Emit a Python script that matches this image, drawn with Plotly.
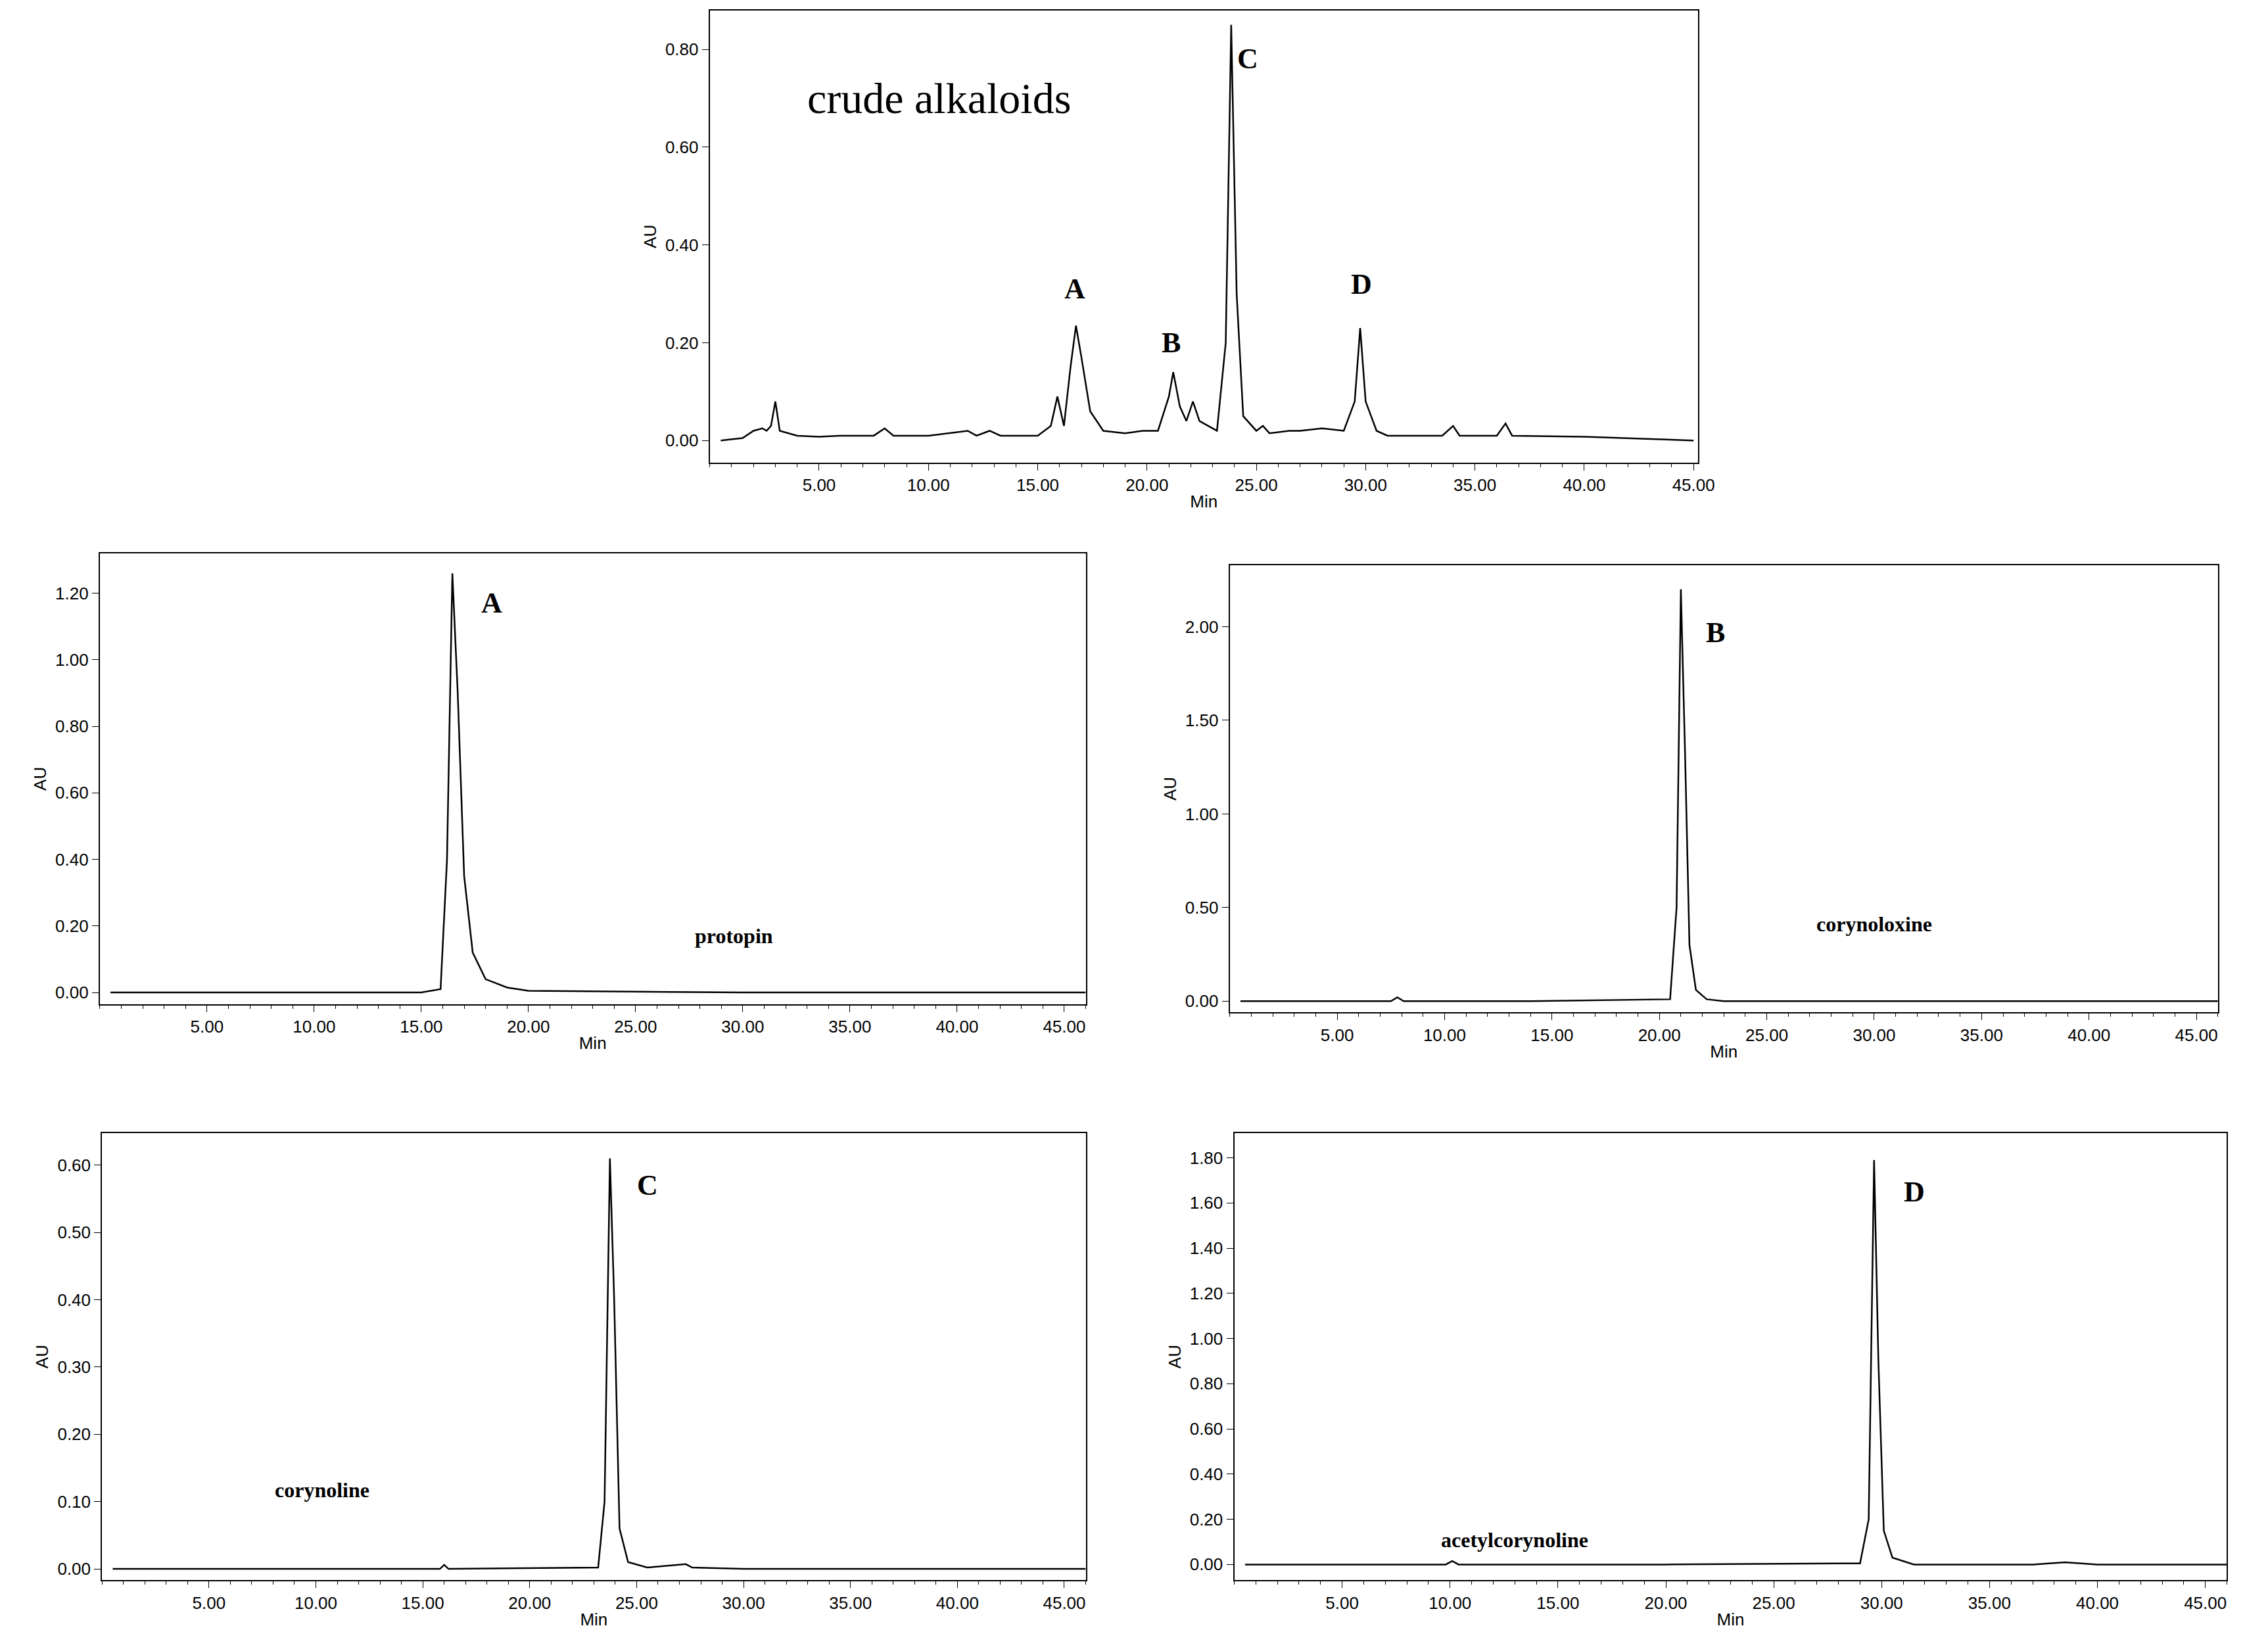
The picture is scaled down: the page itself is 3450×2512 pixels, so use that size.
import plotly.graph_objs as go

# crude alkaloids chromatogram
crude_t = [0.5, 1.5, 2.0, 2.4, 2.6, 2.8, 3.0, 3.2, 4.0, 5.0, 6.0, 7.5, 8.0, 8.4, 10.0, 11.0, 11.8, 12.2,
           12.8, 13.3, 15.0, 15.6, 15.9, 16.2, 16.5, 16.75, 17.0, 17.4, 18.0, 19.0, 19.8, 20.5, 21.0, 21.2,
           21.5, 21.8, 22.1, 22.4, 23.2, 23.6, 23.85, 24.1, 24.4, 25.0, 25.3, 25.6, 26.5, 27.0, 28.0, 29.0,
           29.5, 29.75, 30.0, 30.5, 31.0, 33.5, 34.0, 34.3, 36.0, 36.4, 36.7, 40.0, 45.0]
crude_au = [0.0, 0.005, 0.02, 0.025, 0.02, 0.03, 0.08, 0.02, 0.01, 0.008, 0.01, 0.01, 0.025, 0.01, 0.01,
            0.015, 0.02, 0.01, 0.02, 0.01, 0.01, 0.03, 0.09, 0.03, 0.15, 0.235, 0.17, 0.06, 0.02, 0.015,
            0.02, 0.02, 0.09, 0.14, 0.07, 0.04, 0.08, 0.04, 0.02, 0.2, 0.85, 0.3, 0.05, 0.02, 0.03, 0.015,
            0.02, 0.02, 0.025, 0.02, 0.08, 0.23, 0.08, 0.02, 0.01, 0.01, 0.03, 0.01, 0.01, 0.035, 0.01,
            0.008, 0.0]

protopin_t = [0.5, 5.0, 10.0, 15.0, 15.9, 16.2, 16.45, 16.7, 17.0, 17.4, 18.0, 19.0, 20.0, 30.0, 46.0]
protopin_au = [0.0, 0.0, 0.0, 0.0, 0.01, 0.4, 1.26, 0.9, 0.35, 0.12, 0.04, 0.015, 0.005, 0.0, 0.0]

corynoloxine_t = [0.5, 7.5, 7.8, 8.1, 14.0, 20.5, 20.8, 21.0, 21.2, 21.4, 21.7, 22.2, 23.0, 30.0, 46.0]
corynoloxine_au = [0.0, 0.0, 0.02, 0.0, 0.0, 0.01, 0.5, 2.2, 1.3, 0.3, 0.06, 0.01, 0.0, 0.0, 0.0]

corynoline_t = [0.5, 10.0, 15.8, 16.0, 16.2, 23.2, 23.5, 23.75, 23.95, 24.2, 24.6, 25.5, 27.3, 27.6, 30.0, 46.0]
corynoline_au = [0.0, 0.0, 0.0, 0.006, 0.0, 0.002, 0.1, 0.61, 0.4, 0.06, 0.01, 0.002, 0.007, 0.002, 0.0, 0.0]

acetyl_t = [0.5, 9.8, 10.1, 10.4, 20.0, 29.0, 29.4, 29.65, 29.85, 30.1, 30.5, 31.5, 37.0, 38.5, 40.0, 46.0]
acetyl_au = [0.0, 0.0, 0.015, 0.0, 0.0, 0.005, 0.2, 1.79, 0.9, 0.15, 0.03, 0.0, 0.0, 0.01, 0.0, 0.0]

tick_vals = [5, 10, 15, 20, 25, 30, 35, 40, 45]
tick_text = ["5.00", "10.00", "15.00", "20.00", "25.00", "30.00", "35.00", "40.00", "45.00"]

panels = [
    # trace data, x domain, y domain, x range, y range, y dtick
    (crude_t, crude_au, [0.313, 0.752], [0.723, 0.997], [0, 45.2], [-0.045, 0.88], 0.2),
    (protopin_t, protopin_au, [0.042, 0.480], [0.395, 0.668], [0, 46], [-0.035, 1.32], 0.2),
    (corynoloxine_t, corynoloxine_au, [0.544, 0.983], [0.390, 0.661], [0, 46], [-0.06, 2.33], 0.5),
    (corynoline_t, corynoline_au, [0.043, 0.480], [0.046, 0.317], [0, 46], [-0.017, 0.648], 0.1),
    (acetyl_t, acetyl_au, [0.546, 0.987], [0.046, 0.317], [0, 46], [-0.07, 1.91], 0.2),
]

fig = go.Figure()
axis_font = dict(family="Liberation Sans", size=26, color="black")
layout = {}
for i, (t, au, xd, yd, xr, yr, dt) in enumerate(panels):
    n = "" if i == 0 else str(i + 1)
    fig.add_trace(go.Scatter(x=t, y=au, mode="lines", line=dict(color="black", width=2.5),
                             xaxis="x" + n, yaxis="y" + n, showlegend=False))
    layout["xaxis" + n] = dict(domain=xd, range=xr, anchor="y" + n, tickvals=tick_vals, ticktext=tick_text,
                               ticks="outside", ticklen=10, tickcolor="black",
                               minor=dict(dtick=1, ticks="outside", ticklen=5, tickcolor="black"),
                               showgrid=False, zeroline=False, showline=True, linecolor="black",
                               linewidth=2, mirror=True, tickfont=axis_font,
                               title=dict(text="Min", font=axis_font, standoff=2))
    layout["yaxis" + n] = dict(domain=yd, range=yr, anchor="x" + n, dtick=dt, tick0=0, tickformat=".2f",
                               ticks="outside", ticklen=10, tickcolor="black", showgrid=False,
                               zeroline=False, showline=True, linecolor="black", linewidth=2,
                               mirror=True, tickfont=axis_font,
                               title=dict(text="AU", font=axis_font, standoff=6))
fig.update_layout(**layout)

labels = [
    ("x", "y", 16.7, 0.31, "<b>A</b>", 44), ("x", "y", 21.1, 0.2, "<b>B</b>", 44),
    ("x", "y", 24.6, 0.78, "<b>C</b>", 44), ("x", "y", 29.8, 0.32, "<b>D</b>", 44),
    ("x", "y", 10.5, 0.7, "crude alkaloids", 66),
    ("x2", "y2", 18.3, 1.17, "<b>A</b>", 44), ("x3", "y3", 22.6, 1.97, "<b>B</b>", 44),
    ("x4", "y4", 25.5, 0.57, "<b>C</b>", 44), ("x5", "y5", 31.5, 1.65, "<b>D</b>", 44),
    ("x2", "y2", 29.6, 0.17, "<b>protopin</b>", 32), ("x3", "y3", 30.0, 0.41, "<b>corynoloxine</b>", 32),
    ("x4", "y4", 10.3, 0.117, "<b>corynoline</b>", 32), ("x5", "y5", 13.0, 0.11, "<b>acetylcorynoline</b>", 32),
]
for xr_, yr_, x, y, txt, sz in labels:
    fig.add_annotation(xref=xr_, yref=yr_, x=x, y=y, text=txt, showarrow=False,
                       font=dict(family="Liberation Serif", size=sz, color="black"))

fig.update_layout(width=3450, height=2512, paper_bgcolor="white", plot_bgcolor="white",
                  margin=dict(l=0, r=0, t=0, b=0))
fig.write_html("out.html")
